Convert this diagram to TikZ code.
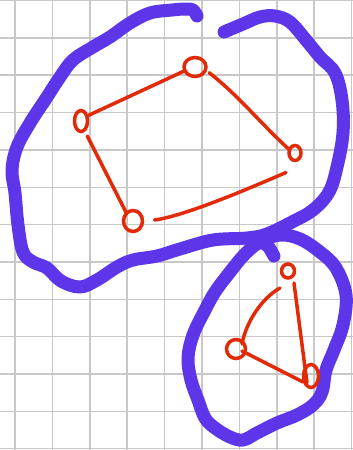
\documentclass[tikz,border=0pt]{standalone}
\usetikzlibrary{shapes.geometric,calc}
\definecolor{gridc}{RGB}{200,200,200}
\definecolor{loopc}{RGB}{92,54,232}
\definecolor{redc}{RGB}{226,42,8}
\tikzset{
  gridline/.style={draw=gridc, line width=1.5pt},
  hull/.style={draw=loopc, line width=13pt, line cap=round, line join=round},
  vtx/.style={ellipse, draw=redc, line width=3.5pt, inner sep=0pt, outer sep=0pt},
  edge/.style={draw=redc, line width=3.5pt, line cap=round}
}
\begin{document}
\begin{tikzpicture}[x=1pt,y=-1pt]
\useasboundingbox (0,0) rectangle (353,450);
\fill[white] (0,0) rectangle (353,450);
% grid
\foreach \i in {0,...,9} {\draw[gridline] ({15+37.4*\i},0) -- ({15+37.4*\i},450);}
\foreach \j in {0,...,12} {\draw[gridline] (0,{0.5+37.35*\j}) -- (353,{0.5+37.35*\j});}
% big purple loop
\draw[hull] plot[smooth, tension=0.6] coordinates {
 (224,32) (243,24) (260,17) (275,16) (290,22) (306,40) (320,57) (335,73) (342,100)
 (343,133) (337,167) (329,192) (313,210) (292,222) (267,234) (247,238) (213,240)
 (180,249) (157,256) (133,260) (117,267) (97,280) (80,287) (61,281) (47,268)
 (33,262) (23,252) (18,225) (15,193) (12,170) (17,147) (30,123) (47,97) (60,77)
 (73,60) (93,47) (110,37) (130,23) (150,13) (172,10) (186,9) (193,10) (197,16)};
% small purple loop
\draw[hull] plot[smooth cycle, tension=0.6] coordinates {
 (260,242) (245,254) (230,272) (215,292) (204,312) (193,335) (188,358) (191,380)
 (198,400) (205,418) (215,428) (230,437) (243,440) (257,433) (277,423) (297,415)
 (313,405) (322,392) (326,370) (334,350) (343,325) (346,295) (336,268) (320,252)
 (300,239) (280,235)};
\draw[hull] (260,242) .. controls (268,245) .. (274,256);
% red graph nodes
\node[vtx, minimum width=22pt, minimum height=19pt] (A) at (195,67) {};
\node[vtx, minimum width=13pt, minimum height=21pt] (B) at (81,121) {};
\node[vtx, minimum width=12pt, minimum height=15pt] (C) at (295,153) {};
\node[vtx, minimum width=19pt, minimum height=21pt] (D) at (133,221) {};
\node[vtx, minimum width=13pt, minimum height=14pt] (E) at (288,271) {};
\node[vtx, minimum width=19pt, minimum height=19pt] (F) at (236,349) {};
\node[vtx, minimum width=15pt, minimum height=23pt] (G) at (311,376) {};
% red graph edges
\draw[edge] (B.40) -- (A.200);
\draw[edge] ($(A.-20)+(4,2)$) .. controls (238,95) and (262,125) .. (C.150);
\draw[edge] ($(B.-70)+(3,6)$) -- (D.130);
\draw[edge] ($(D.east)+(12,-1)$) .. controls (185,216) and (250,188) .. ($(C.south)+(-9,12)$);
\draw[edge] ($(E.south)+(-8,10)$) .. controls (262,298) and (246,322) .. ($(F)+(6,-5)$);
\draw[edge] ($(E.south)+(6,5)$) -- ($(G)+(-4,7)$);
\draw[edge] ($(F)+(6,2)$) -- ($(G)+(-8,6)$);
\end{tikzpicture}
\end{document}
